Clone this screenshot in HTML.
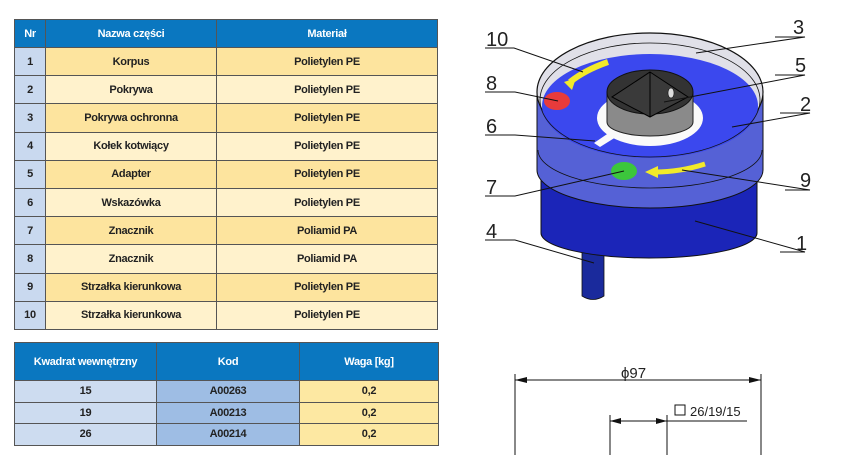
<!DOCTYPE html>
<html><head><meta charset="utf-8"><style>
body{margin:0;width:847px;height:455px;background:#fff;overflow:hidden;position:relative;font-family:"Liberation Sans Narrow","Liberation Sans",sans-serif;}
table{position:absolute;border-collapse:collapse;font-weight:bold;font-size:11px;letter-spacing:-0.3px;color:#222;}
td,th{border:1px solid #555;text-align:center;padding:0;}
th{background:#0a77c0;color:#fff;font-weight:bold;}
#t1{left:14px;top:19px;width:424px;}
#t1 th{height:27px;}
#t1 td{height:27.2px;}
#t1 tr.o td{background:#fde49e;} #t1 tr.e td{background:#fff2cc;}
#t1 tr td:first-child{background:#c9d9ef;}
#t2{left:14px;top:342px;width:425px;}
#t2 th{height:37px;}
#t2 td{height:20.5px;}
.c1{background:#cddcf0;} .c2{background:#9ebde4;} .c3{background:#fde8a2;}
svg{position:absolute;left:0;top:0;}
</style></head><body>
<table id="t1">
<tr><th style="width:30px">Nr</th><th style="width:170px">Nazwa części</th><th>Materiał</th></tr>
<tr class="o"><td>1</td><td>Korpus</td><td>Polietylen PE</td></tr>
<tr class="e"><td>2</td><td>Pokrywa</td><td>Polietylen PE</td></tr>
<tr class="o"><td>3</td><td>Pokrywa ochronna</td><td>Polietylen PE</td></tr>
<tr class="e"><td>4</td><td>Kołek kotwiący</td><td>Polietylen PE</td></tr>
<tr class="o"><td>5</td><td>Adapter</td><td>Polietylen PE</td></tr>
<tr class="e"><td>6</td><td>Wskazówka</td><td>Polietylen PE</td></tr>
<tr class="o"><td>7</td><td>Znacznik</td><td>Poliamid PA</td></tr>
<tr class="e"><td>8</td><td>Znacznik</td><td>Poliamid PA</td></tr>
<tr class="o"><td>9</td><td>Strzałka kierunkowa</td><td>Polietylen PE</td></tr>
<tr class="e"><td>10</td><td>Strzałka kierunkowa</td><td>Polietylen PE</td></tr>
</table>
<table id="t2">
<tr><th style="width:141px">Kwadrat wewnętrzny</th><th style="width:142px">Kod</th><th>Waga [kg]</th></tr>
<tr><td class="c1">15</td><td class="c2">A00263</td><td class="c3">0,2</td></tr>
<tr><td class="c1">19</td><td class="c2">A00213</td><td class="c3">0,2</td></tr>
<tr><td class="c1">26</td><td class="c2">A00214</td><td class="c3">0,2</td></tr>
</table>
<svg width="847" height="455" viewBox="0 0 847 455">
<path d="M582 245 L582 296 Q593 303 604 296 L604 245 Z" fill="#1a2a9c" stroke="#111" stroke-width="0.8"/>
<path d="M541 165 L541 233 A108 25 0 0 0 757 233 L757 165 Z" fill="#1b25b8" stroke="#111" stroke-width="1"/>
<path d="M537 95 L537 170 A113 38 0 0 0 763 170 L763 95 Z" fill="#5561d6" stroke="#111" stroke-width="1"/>
<path d="M538 150 A112 38 0 0 0 762 150" fill="none" stroke="#111" stroke-width="0.8"/>
<ellipse cx="650" cy="92" rx="113" ry="59" fill="#e0e0e8" stroke="#111" stroke-width="1.2"/>
<ellipse cx="650" cy="106" rx="108" ry="52" fill="#3b48ee"/>
<ellipse cx="650" cy="100" rx="110" ry="57" fill="none" stroke="#111" stroke-width="0.8"/>
<ellipse cx="650" cy="118" rx="53" ry="28" fill="#fafafa"/>
<path d="M594 143 L616 128 L624 132 L600 147 Z" fill="#fafafa"/>
<path d="M607 92 L607 122 A43 14 0 0 0 693 122 L693 92 Z" fill="#8a8a8a" stroke="#222"/>
<ellipse cx="650" cy="92" rx="43" ry="22" fill="#333" stroke="#111"/>
<path d="M650 72 L688 97 L650 117 L612 97 Z" fill="#3a3a3a" stroke="#000"/>
<line x1="650" y1="72" x2="650" y2="117" stroke="#000"/>
<ellipse cx="671" cy="93" rx="3" ry="5" fill="#ddd" stroke="#000" stroke-width="0.5"/>
<ellipse cx="557" cy="101" rx="13" ry="9" fill="#e83b3b"/>
<ellipse cx="624" cy="171" rx="13" ry="9" fill="#3cc63c"/>
<path d="M608 62 Q585 70 570 82" stroke="#f2ea2a" stroke-width="6" fill="none"/>
<path d="M564 82 L576 78 L572 90 Z" fill="#f2ea2a"/>
<path d="M705 164 Q680 172 655 172" stroke="#f2ea2a" stroke-width="5" fill="none"/>
<path d="M645 172 L658 166 L658 178 Z" fill="#f2ea2a"/>
<g stroke="#111" stroke-width="1" fill="none">
<path d="M485 48 L514 48 L583 72"/>
<path d="M775 37 L805 37 L696 53"/>
<path d="M775 75 L805 75 L664 102"/>
<path d="M485 92 L515 92 L558 101"/>
<path d="M780 113 L810 113 L732 127"/>
<path d="M485 135 L515 135 L595 141"/>
<path d="M485 196 L515 196 L624 171"/>
<path d="M785 190 L810 190 L682 170"/>
<path d="M485 240 L515 240 L594 263"/>
<path d="M780 252 L805 252 L695 221"/>
</g>
<g font-family="Liberation Sans Narrow, Liberation Sans, sans-serif" font-size="20" fill="#222">
<text x="486" y="46">10</text><text x="793" y="34">3</text><text x="795" y="72">5</text>
<text x="486" y="90">8</text><text x="800" y="111">2</text><text x="486" y="133">6</text>
<text x="486" y="194">7</text><text x="800" y="187">9</text><text x="486" y="238">4</text>
<text x="796" y="250">1</text>
</g>
<g stroke="#111" stroke-width="1" fill="none">
<line x1="515" y1="374" x2="515" y2="455"/>
<line x1="761" y1="374" x2="761" y2="455"/>
<line x1="515" y1="380" x2="761" y2="380"/>
<line x1="610" y1="415" x2="610" y2="455"/>
<line x1="667" y1="415" x2="667" y2="455"/>
<line x1="610" y1="421" x2="747" y2="421"/>
<rect x="675" y="405" width="10" height="10"/>
</g>
<g fill="#111">
<path d="M515 380 L527 377 L527 383 Z"/><path d="M761 380 L749 377 L749 383 Z"/>
<path d="M610 421 L621 418 L621 424 Z"/><path d="M667 421 L656 418 L656 424 Z"/>
</g>
<text x="621" y="378" font-family="Liberation Sans Narrow, Liberation Sans, sans-serif" font-size="15" fill="#222">ϕ97</text>
<text x="690" y="416" font-family="Liberation Sans Narrow, Liberation Sans, sans-serif" font-size="13" fill="#222">26/19/15</text>
</svg>
</body></html>
